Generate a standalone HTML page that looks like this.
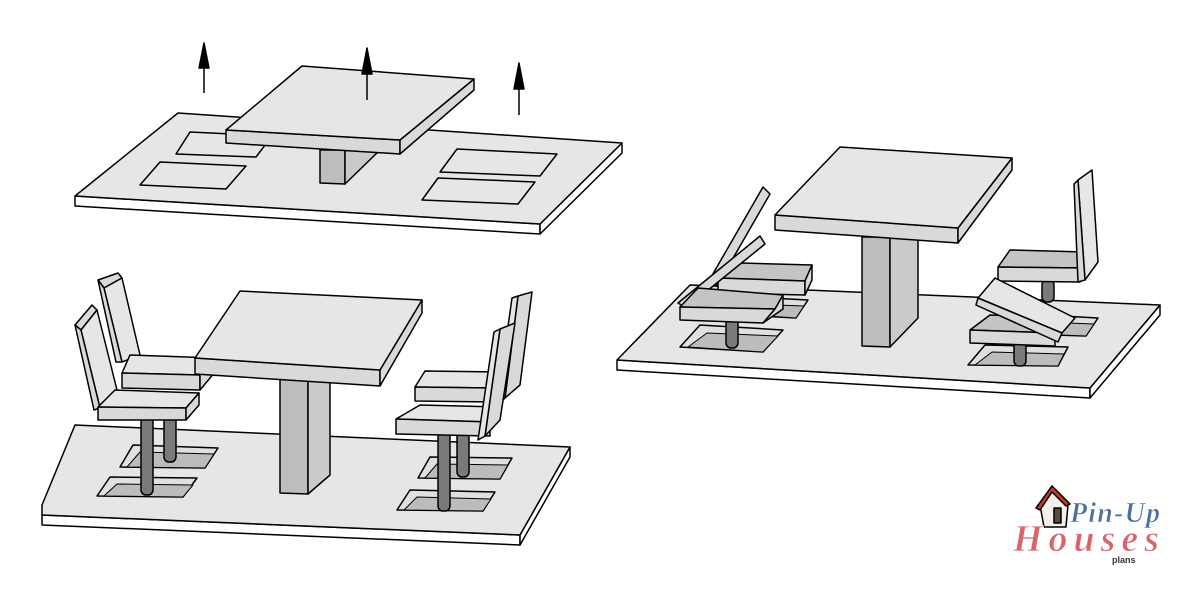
<!DOCTYPE html>
<html><head><meta charset="utf-8"><style>
html,body{margin:0;padding:0;background:#fff;width:1200px;height:590px;overflow:hidden}
svg{display:block}
polygon,rect,line,path{stroke:#000;stroke-width:1.5;stroke-linejoin:round}
.t{fill:#e6e6e6}.f{fill:#d9d9d9}.w{fill:#fff}.p{fill:#bdbdbd}.ps{fill:#cacaca}.h{fill:#e0e0e0}.hi{fill:#bcbcbc;stroke-width:1}.pole{fill:#7a7a7a}.d{fill:#c4c4c4}
</style></head><body>
<svg width="1200" height="590" viewBox="0 0 1200 590" xmlns="http://www.w3.org/2000/svg">
<!-- ===== TOP SCENE ===== -->
<polygon class="w" points="75,196 540,224 540,234 75,206"/>
<polygon class="w" points="622,143 622,153 540,234 540,224"/>
<polygon class="t" points="178,113 622,143 540,224 75,196"/>
<polygon class="t" points="190,132 272,136 256,157 176,154"/>
<polygon class="t" points="160,162 246,166 226,189 140,185"/>
<polygon class="t" points="457,149 557,154 540,176 440,172"/>
<polygon class="t" points="438,178 535,182 518,204 422,200"/>
<polygon class="p" points="320,150 345,150 345,184 320,183"/>
<polygon class="ps" points="345,150 380,150 345,184"/>
<polygon class="f" points="226,130 400,140 400,154 226,143"/>
<polygon class="f" points="474,79 474,90 400,154 400,140"/>
<polygon class="t" points="302,66 474,79 400,140 226,130"/>
<line x1="204" y1="93" x2="204" y2="66"/><polygon points="204,43 199,68 209,68" fill="#000"/>
<line x1="367" y1="100" x2="367" y2="72"/><polygon points="367,48 362,74 372,74" fill="#000"/>
<line x1="519" y1="115" x2="519" y2="87"/><polygon points="519,63 514,89 524,89" fill="#000"/>

<!-- ===== BOTTOM-LEFT SCENE ===== -->
<polygon class="w" points="42,515 520,535 520,545 42,525"/>
<polygon class="w" points="570,447 570,457 520,545 520,535"/>
<polygon class="t" points="75,425 570,447 520,535 42,515 42,505"/>
<!-- holes -->
<polygon class="h" points="133,445 218,448 205,468 120,467"/>
<polygon class="hi" points="140,452 214,454 205,468 127,467"/>
<polygon class="h" points="110,477 197,478 183,497 97,496"/>
<polygon class="hi" points="117,484 193,485 183,497 104,496"/>
<polygon class="h" points="430,457 512,458 500,479 418,478"/>
<polygon class="hi" points="437,464 508,465 500,479 425,478"/>
<polygon class="h" points="410,490 495,492 483,511 397,510"/>
<polygon class="hi" points="417,497 491,499 483,511 404,510"/>
<!-- poles -->
<rect class="pole" x="164" y="415" width="12" height="47" rx="5"/>
<rect class="pole" x="141" y="415" width="12" height="80" rx="5"/>
<rect class="pole" x="457" y="430" width="12" height="47" rx="5"/>
<rect class="pole" x="438" y="430" width="12" height="81" rx="5"/>
<!-- table pedestal -->
<polygon class="p" points="280,378 308,378 308,494 280,493"/>
<polygon class="ps" points="308,378 330,378 330,475 308,494"/>
<!-- left chairs -->
<polygon class="f" points="98,280 118,273 122,278 104,288"/>
<polygon class="t" points="104,288 122,278 140,355 122,362"/>
<polygon class="f" points="98,280 104,288 122,362 116,362"/>
<polygon class="t" points="130,355 215,358 200,375 122,373"/>
<polygon class="f" points="122,373 200,375 200,390 122,388"/>
<polygon class="f" points="200,375 215,358 215,372 200,390"/>
<polygon class="f" points="75,325 92,305 97,310 81,330"/>
<polygon class="t" points="81,330 97,310 117,390 100,408"/>
<polygon class="f" points="75,325 81,330 100,408 94,410"/>
<polygon class="t" points="115,390 199,393 186,408 98,407"/>
<polygon class="f" points="98,407 186,408 186,420 98,420"/>
<polygon class="f" points="186,408 199,393 199,405 186,420"/>
<!-- right chairs -->
<polygon class="t" points="425,371 500,372 493,388 415,387"/>
<polygon class="f" points="415,387 493,388 493,402 415,401"/>
<polygon class="f" points="518,296 532,292 520,385 505,398"/>
<polygon class="t" points="512,298 518,296 505,398 497,405"/>
<polygon class="t" points="420,405 500,407 490,422 396,419"/>
<polygon class="f" points="396,419 490,422 490,436 396,434"/>
<polygon class="f" points="500,329 515,323 500,420 485,436"/>
<polygon class="t" points="494,332 500,329 485,436 478,440"/>
<!-- table top -->
<polygon class="f" points="195,358 380,370 380,386 195,374"/>
<polygon class="f" points="422,300 422,313 380,386 380,370"/>
<polygon class="t" points="240,291 422,300 380,370 195,358"/>

<!-- ===== RIGHT SCENE ===== -->
<polygon class="w" points="617,360 1090,388 1090,398 617,370"/>
<polygon class="w" points="1160,305 1160,315 1090,398 1090,388"/>
<polygon class="t" points="690,285 1160,305 1090,388 617,360"/>
<!-- holes -->
<polygon class="h" points="700,325 783,330 763,352 680,347"/>
<polygon class="hi" points="707,333 778,336 763,352 688,347"/>
<polygon class="h" points="770,298 808,300 796,318 760,316"/>
<polygon class="hi" points="776,305 804,306 796,318 767,316"/>
<polygon class="h" points="985,345 1068,347 1058,366 968,365"/>
<polygon class="hi" points="992,352 1064,354 1058,366 975,365"/>
<polygon class="h" points="1062,316 1098,318 1086,336 1054,335"/>
<polygon class="hi" points="1068,323 1094,324 1086,336 1061,335"/>
<!-- poles -->
<rect class="pole" x="726" y="318" width="12" height="30" rx="5"/>
<rect class="pole" x="1042" y="280" width="12" height="22" rx="5"/>
<rect class="pole" x="1014" y="340" width="12" height="26" rx="5"/>
<!-- pedestal -->
<polygon class="p" points="862,237 890,237 890,347 862,346"/>
<polygon class="ps" points="890,237 918,237 918,318 890,347"/>
<!-- left folded chairs -->
<polygon class="f" points="710,279 763,187 770,194 717,286"/>
<polygon class="d" points="740,263 812,265 805,281 718,278"/>
<polygon class="f" points="718,278 805,281 805,295 718,293"/>
<polygon class="f" points="805,281 812,265 812,280 805,295"/>
<polygon class="f" points="678,303 760,236 765,244 686,308"/>
<polygon class="d" points="698,288 783,295 775,309 680,307"/>
<polygon class="f" points="680,307 775,309 763,323 680,320"/>
<polygon class="f" points="775,309 783,295 783,309 763,323"/>
<!-- right chairs -->
<polygon class="d" points="1010,250 1085,252 1085,268 998,267"/>
<polygon class="f" points="998,267 1085,268 1080,282 998,281"/>
<polygon class="t" points="1078,180 1092,170 1098,262 1085,280"/>
<polygon class="f" points="1074,184 1078,180 1085,280 1078,282"/>
<polygon class="d" points="990,315 1060,318 1055,333 970,330"/>
<polygon class="f" points="970,330 1055,333 1055,346 970,343"/>
<polygon class="t" points="978,298 995,278 1075,318 1062,333"/>
<polygon class="f" points="978,298 1062,333 1058,342 976,305"/>
<!-- table top -->
<polygon class="f" points="775,215 958,228 958,243 775,230"/>
<polygon class="f" points="1012,158 1012,170 958,243 958,228"/>
<polygon class="t" points="840,147 1012,158 958,228 775,215"/>

<!-- ===== LOGO ===== -->
<g>
<polygon points="1040,505 1052,488 1068,505 1066,527 1044,527" fill="#f4efe9" stroke="#9b3b3b" stroke-width="1"/>
<polygon points="1036,508 1052,486 1070,504 1066,506 1052,492 1040,510" fill="#c0392b" stroke="#8e2a20" stroke-width="1"/>
<rect x="1054" y="508" width="7" height="15" fill="#5a4a3a" stroke="none"/>
<text x="1070" y="522" font-family="Liberation Serif, serif" font-style="italic" font-weight="bold" font-size="28" fill="#4a6fa0" stroke="#fff" stroke-width="0.6" textLength="90">Pin-Up</text>
<text x="1013" y="551" font-family="Liberation Serif, serif" font-style="italic" font-weight="bold" font-size="38" fill="#d9646a" stroke="#fff" stroke-width="0.8" textLength="146">Houses</text>
<text x="1112" y="563" font-family="Liberation Sans, sans-serif" font-weight="bold" font-size="9" fill="#333" stroke="none">plans</text>
</g>
</svg>
</body></html>
